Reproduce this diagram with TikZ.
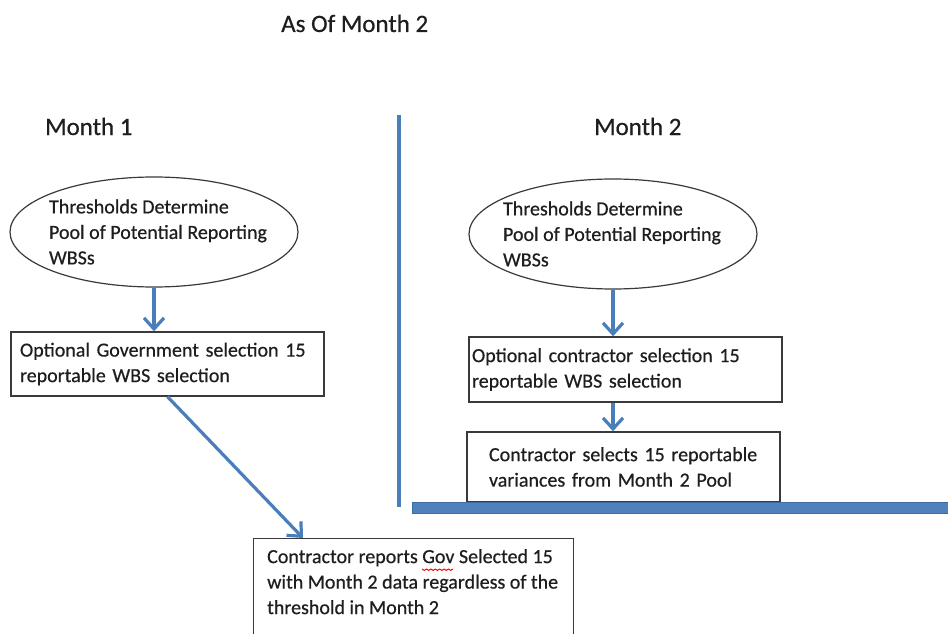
\documentclass[tikz,border=0pt]{standalone}
\usepackage{fontspec}
\setmainfont{Carlito}[FakeBold=0.5]
\usetikzlibrary{shapes.geometric,arrows.meta,calc}
\definecolor{ablue}{HTML}{4A7EBB}
\definecolor{barblue}{HTML}{4F81BD}
\definecolor{baredge}{HTML}{3D6BA5}
\definecolor{lineg}{HTML}{3A3A3A}
\definecolor{txtc}{HTML}{1E1E1E}
\newlength\govx
\begin{document}
\settowidth\govx{\fontsize{20}{25.5}\selectfont Contractor reports }%
\pgfmathsetmacro\govxn{\govx}%
\begin{tikzpicture}[x=1pt,y=-1pt,
  every node/.style={text=txtc},
  body/.style={font=\fontsize{20}{25.5}\selectfont, align=left},
  head/.style={font=\fontsize{25}{30}\selectfont, inner sep=0pt},
  ell/.style={ellipse, draw=lineg, line width=1.2pt, inner sep=0pt},
  box/.style={rectangle, draw=lineg, line width=1.4pt, inner xsep=0pt, body},
  arr/.style={draw=ablue, line width=3.2pt, -{Straight Barb[length=11pt,width=20pt]}},
  divider/.style={draw=ablue, line width=3.4pt},
  spell/.style={draw=red, line width=1pt, line join=round}]
\useasboundingbox (0,0) rectangle (948,634);
\fill[white] (0,0) rectangle (948,634);
\clip (0,0) rectangle (948,634);

\node[head, anchor=base west] (title) at (281,32) {As Of Month 2};
\node[head, anchor=base west] (m1) at (45,135) {Month 1};
\node[head, anchor=base west] (m2) at (594,135) {Month 2};

\draw[divider] (399,115) -- (399,507);

\node[ell, minimum width=288pt, minimum height=110pt] (e1) at (154,232) {};
\node[body, inner sep=0pt] (t1) at ($(e1.center)+(4,0)$) {Thresholds Determine\\Pool of Potential Reporting\\WBSs};
\node[ell, minimum width=288pt, minimum height=110pt] (e2) at (613,234) {};
\node[body, inner sep=0pt] (t2) at ($(e2.center)+(-1,0)$) {Thresholds Determine\\Pool of Potential Reporting\\WBSs};

\node[box, minimum width=313pt, minimum height=64pt, text width=295pt] (b1) at (167.5,364) {Optional Government selection 15\\reportable WBS selection};
\node[box, minimum width=313pt, minimum height=65pt, text width=307pt] (b2) at (625.5,369.5) {Optional contractor selection 15\\reportable WBS selection};
\node[box, minimum width=313pt, minimum height=70pt, text width=269pt] (b3) at (623.5,467) {Contractor selects 15 reportable\\variances from Month 2 Pool};

\filldraw[fill=barblue, draw=baredge, line width=0.8pt] (412,502) rectangle (952,513);

\node[box, minimum width=320pt, minimum height=130pt, anchor=north west] (b4) at (253,538) {};
\node[body, inner sep=0pt, anchor=north west] (t4) at (267,549) {Contractor reports Gov Selected 15\\with Month 2 data regardless of the\\threshold in Month 2};

\coordinate (gs) at ($(t4.north west)+(\govxn,20)$);
\draw[spell] (gs) -- ++(2.2,1.4) -- ++(2.2,-1.4) -- ++(2.2,1.4) -- ++(2.2,-1.4)
  -- ++(2.2,1.4) -- ++(2.2,-1.4) -- ++(2.2,1.4) -- ++(2.2,-1.4)
  -- ++(2.2,1.4) -- ++(2.2,-1.4) -- ++(2.2,1.4) -- ++(2.2,-1.4)
  -- ++(2.2,1.4) -- ++(2.2,-1.4);

\draw[arr] (e1.south) -- (e1.south |- b1.north);
\draw[arr] (e2.south) -- (e2.south |- b2.north);
\draw[arr] (e2.south |- b2.south) -- (e2.south |- b3.north);
\draw[arr] (b1.south) -- ($(b4.north west)+(50,0)$);
\end{tikzpicture}
\end{document}
